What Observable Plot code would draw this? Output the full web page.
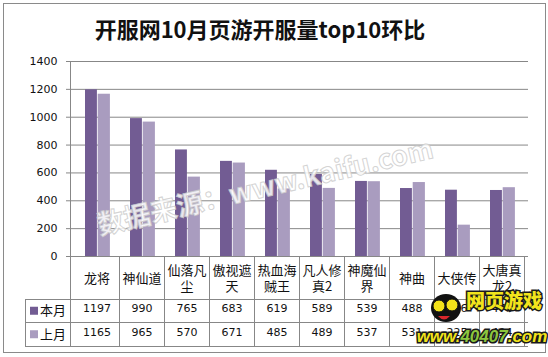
<!DOCTYPE html>
<html>
<head>
<meta charset="utf-8">
<script src="https://cdn.jsdelivr.net/npm/d3@7"></script>
<script src="https://cdn.jsdelivr.net/npm/@observablehq/plot@0.6"></script>
<style>
  html, body { margin: 0; padding: 0; background: #fff; }
  #wrap { position: relative; width: 548px; height: 357px; overflow: hidden; background: #fff; }
  #border { position: absolute; left: 3px; top: 3px; width: 541px; height: 348px; border: 1px solid #8a8a8a; }
  #title { position: absolute; left: 0; top: 13px; width: 520px; text-align: center;
           font-family: "Noto Sans CJK SC", sans-serif; font-weight: bold; font-size: 22px; line-height: 30px; color: #111; }
  #chart { position: absolute; left: 0; top: 50px; }
</style>
</head>
<body>
<div id="wrap">
  <div id="border"></div>
  <div id="title">开服网10月页游开服量top10环比</div>
  <div id="chart"></div>
</div>
<script>
const categories = ["龙将","神仙道","仙落凡尘","傲视遮天","热血海贼王","凡人修真2","神魔仙界","神曲","大侠传","大唐真龙2"];
const thisMonth = [1197, 990, 765, 683, 619, 589, 539, 488, 476, 474];
const lastMonth = [1165, 965, 570, 671, 485, 489, 537, 531, 225, 494];
const seriesNames = ["本月", "上月"];
const seriesColors = ["#725C93", "#A99CBF"];
const yTicks = [0, 200, 400, 600, 800, 1000, 1200, 1400];

const data = categories.map((c, i) => ({cat: c, cur: thisMonth[i], prev: lastMonth[i]}));
const wrapLabel = s => (s.match(/.{1,3}/gu) || [s]).join("\n");

const W = 548, H = 300, mT = 11, mB = 94, mL = 70, mR = 20;
const numFont = "DejaVu Sans, sans-serif";
const cjkFont = "Noto Sans CJK SC, sans-serif";

const plot = Plot.plot({
  width: W, height: H,
  marginTop: mT, marginBottom: mB, marginLeft: mL, marginRight: mR,
  style: {background: "transparent", color: "#111", fontFamily: numFont},
  x: {domain: categories, padding: 0, axis: null},
  y: {domain: [0, 1400], axis: null},
  marks: [
    Plot.gridY(yTicks, {stroke: "#878787", strokeOpacity: 1}),
    Plot.barY(data, {x: "cat", y: "cur", fill: seriesColors[0], insetLeft: 11, insetRight: 22.1}),
    Plot.barY(data, {x: "cat", y: "prev", fill: seriesColors[1], insetLeft: 23.7, insetRight: 9.1}),
    Plot.ruleY([0], {stroke: "#878787"}),
    Plot.axisY(yTicks, {tickSize: 4, tickPadding: 9, fontSize: 11, fontFamily: numFont, color: "#111",
      tickFormat: d => String(d)}),
    Plot.text(data, {x: "cat", text: d => wrapLabel(d.cat), frameAnchor: "bottom", dy: 21,
      lineAnchor: "middle", lineHeight: 1.23, fontSize: 13, fontFamily: cjkFont, fill: "#111"}),
    Plot.text(data, {x: "cat", text: d => String(d.cur), frameAnchor: "bottom", dy: 55,
      fontSize: 11, fontFamily: numFont, fill: "#111"}),
    Plot.text(data, {x: "cat", text: d => String(d.prev), frameAnchor: "bottom", dy: 79,
      fontSize: 11, fontFamily: numFont, fill: "#111"})
  ]
});

document.getElementById("chart").appendChild(plot);

// table grid and legend
const svg = d3.select(plot);
svg.selectAll("g[aria-label='y-axis tick'] path, g[aria-label='y-axis tick'] line").attr("stroke", "#878787");
const x = plot.scale("x");
const bw = x.bandwidth;
const fTop = mT, fBot = H - mB;
const r1 = fBot + 43, r2 = fBot + 66.5, r3 = fBot + 90;
const x0 = mL, x1 = W - mR, legL = 25;
const g = svg.append("g").attr("stroke", "#878787").attr("shape-rendering", "crispEdges");
g.append("line").attr("x1", x0).attr("x2", x0).attr("y1", fTop).attr("y2", r3);
categories.forEach(c => {
  const xe = x.apply(c) + bw;
  g.append("line").attr("x1", xe).attr("x2", xe).attr("y1", fBot).attr("y2", r3);
});
g.append("line").attr("x1", legL).attr("x2", legL).attr("y1", r1).attr("y2", r3);
[r1, r2, r3].forEach(yy => g.append("line").attr("x1", legL).attr("x2", x1).attr("y1", yy).attr("y2", yy));

const leg = svg.append("g").attr("text-anchor", "start");
[[r1, r2], [r2, r3]].forEach(([a, b], i) => {
  const cy = (a + b) / 2;
  leg.append("rect").attr("x", 30).attr("y", cy - 4).attr("width", 8).attr("height", 8).attr("fill", seriesColors[i]);
  leg.append("text").attr("x", 40).attr("y", cy).attr("dy", "0.36em").attr("text-anchor", "start")
    .attr("font-family", cjkFont).attr("font-size", 13).attr("fill", "#111").text(seriesNames[i]);
});

// watermark
svg.append("text")
  .attr("transform", "translate(100,185) rotate(-13)").attr("text-anchor", "start")
  .attr("font-family", cjkFont).attr("font-weight", "bold").attr("font-size", 27)
  .attr("fill", "#ffffff").attr("fill-opacity", 0.85)
  .attr("stroke", "#c9c9c9").attr("stroke-width", 1).attr("stroke-opacity", 0.8)
  .text("数据来源：www.kaifu.com");

// site logo (bottom right)
const logo = svg.append("g");
logo.append("ellipse").attr("cx", 446).attr("cy", 258).attr("rx", 15).attr("ry", 14).attr("fill", "#111");
logo.append("circle").attr("cx", 439).attr("cy", 256).attr("r", 6).attr("fill", "#f3e21a").attr("stroke", "#111");
logo.append("circle").attr("cx", 452).attr("cy", 255).attr("r", 6).attr("fill", "#f3e21a").attr("stroke", "#111");
logo.append("path").attr("d", "M438,266 Q444,273 450,266 Z").attr("fill", "#d9262b");
logo.append("text").attr("x", 504).attr("y", 258).attr("text-anchor", "middle")
  .attr("font-family", cjkFont).attr("font-weight", "900").attr("font-size", 19)
  .attr("fill", "#f2e41c").attr("stroke", "#1a1a1a").attr("stroke-width", 3).attr("paint-order", "stroke")
  .text("网页游戏");
const url = logo.append("text").attr("x", 482).attr("y", 292).attr("text-anchor", "middle")
  .attr("font-family", "Liberation Sans, sans-serif").attr("font-weight", "bold").attr("font-style", "italic")
  .attr("font-size", 17).attr("stroke", "#1a1a1a").attr("stroke-width", 3).attr("paint-order", "stroke");
url.append("tspan").attr("fill", "#f2e41c").text("www.");
url.append("tspan").attr("fill", "#8cc63e").text("40407");
url.append("tspan").attr("fill", "#f2e41c").text(".com");
</script>
</body>
</html>
